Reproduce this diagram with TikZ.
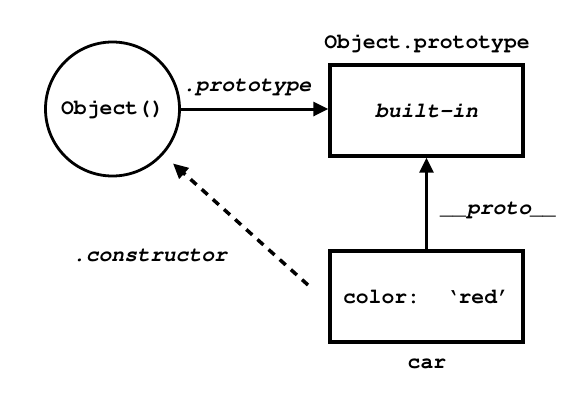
\documentclass[tikz,border=0pt]{standalone}
\usepackage[T1]{fontenc}
\usetikzlibrary{arrows.meta}
\newcommand\cour{\fontencoding{T1}\fontfamily{pcr}\selectfont}
\begin{document}
\begin{tikzpicture}[x=1pt,y=-1pt,
  every node/.style={font=\cour\fontsize{21.4}{24}\selectfont\bfseries, inner sep=0pt},
  obox/.style={draw, line width=3.3pt, minimum width=193pt, minimum height=91pt},
  arr/.style={line width=3pt, -{Triangle[length=15pt,width=14pt]}},
  dasharr/.style={line width=3.5pt, dash pattern=on 8pt off 7pt, -{Triangle[length=15pt,width=14pt]}, shorten >=13pt}
]
\useasboundingbox (0,0) rectangle (573,400);
\node[circle, draw, line width=2.8pt, minimum size=134pt] (obj) at (112.5,109) {Object()};
\node[obox] (proto) at (426.5,110.5) {\slshape built-in};
\node[obox] (car) at (426.5,296.5) {color: `red'};
\node (protolbl) at (427,43) {Object.prototype};
\node (carlbl) at (427,364) {car};
\node (plbl) at (247,87) {\slshape .prototype};
\node (ulbl) at (499,210) {\slshape \_\_proto\_\_};
\node (clbl) at (150,256) {\slshape .constructor};
\coordinate (ctail) at (308,285);
\draw[arr] (obj.east) -- (obj.east -| proto.west);
\draw[arr] (car.north) -- (proto.south);
\draw[dasharr] (ctail) -- (obj);
\end{tikzpicture}
\end{document}
